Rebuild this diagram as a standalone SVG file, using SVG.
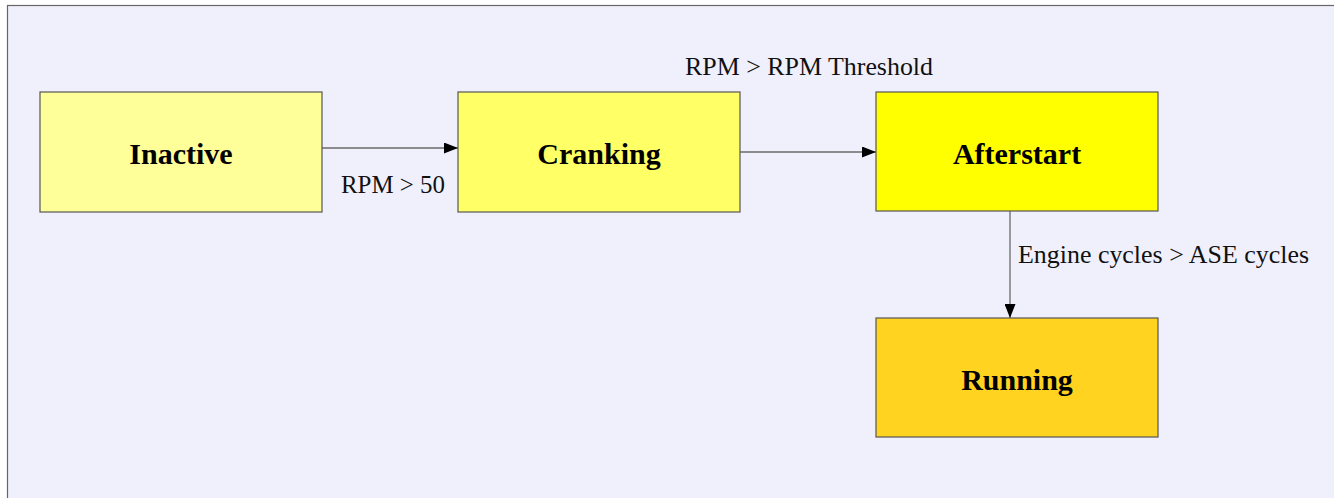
<svg xmlns="http://www.w3.org/2000/svg" width="1334" height="498" viewBox="0 0 1334 498">
<defs>
<style>
.node rect{stroke:#555;stroke-width:1.2}
.nl{font-family:"Liberation Serif","Times New Roman",serif;font-weight:bold;font-size:30px;text-anchor:middle;fill:#000}
.el{font-family:"Liberation Serif","Times New Roman",serif;font-size:25.5px;fill:#111}
.edge{stroke:#6a6a6a;stroke-width:1.3;fill:none}
</style>
<marker id="ah" markerUnits="userSpaceOnUse" markerWidth="14" markerHeight="11" refX="14" refY="5.5" orient="auto">
<path d="M0,0 L14,5.5 L0,11 Z" fill="#000"/>
</marker>
</defs>
<rect x="0" y="0" width="1334" height="498" fill="#ffffff"/>
<rect x="7.5" y="5.5" width="1340" height="500" fill="#f0f0fc" stroke="#666" stroke-width="1.2"/>
<g id="connectors">
<path class="edge" d="M322,148 L458,148" marker-end="url(#ah)"/>
<path class="edge" d="M740,152 L876,152" marker-end="url(#ah)"/>
<path class="edge" d="M1010,211 L1010,318" marker-end="url(#ah)"/>
<text class="el" x="341" y="193" textLength="104" lengthAdjust="spacingAndGlyphs">RPM &gt; 50</text>
<text class="el" x="685" y="75" textLength="248" lengthAdjust="spacingAndGlyphs">RPM &gt; RPM Threshold</text>
<text class="el" x="1018" y="263" textLength="291" lengthAdjust="spacingAndGlyphs">Engine cycles &gt; ASE cycles</text>
</g>
<g id="inactive" class="node">
<rect x="40" y="92" width="282" height="120" fill="#ffff99"/>
<text class="nl" x="181" y="164">Inactive</text>
</g>
<g id="cranking" class="node">
<rect x="458" y="92" width="282" height="120" fill="#ffff66"/>
<text class="nl" x="599" y="164">Cranking</text>
</g>
<g id="afterstart" class="node">
<rect x="876" y="92" width="282" height="119" fill="#ffff00"/>
<text class="nl" x="1017" y="164">Afterstart</text>
</g>
<g id="running" class="node">
<rect x="876" y="318" width="282" height="119" fill="#ffd320"/>
<text class="nl" x="1017" y="390">Running</text>
</g>
</svg>
